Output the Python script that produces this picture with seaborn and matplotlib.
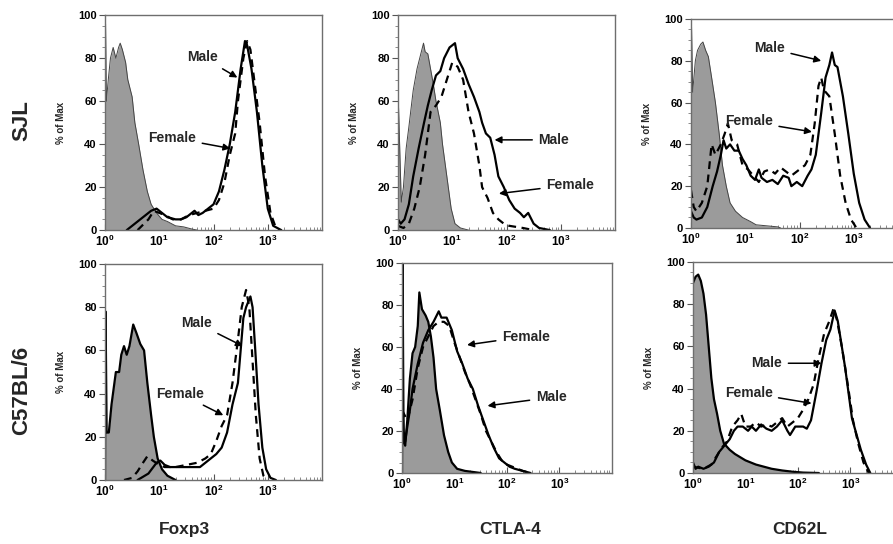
import numpy as np
import pandas as pd
import seaborn as sns
import matplotlib.pyplot as plt
from matplotlib.ticker import FixedLocator, MultipleLocator, LogLocator, NullFormatter

# histogram traces: (log10 fluorescence, % of max)
foxp3_sjl_iso = [(0.0, 0), (0.01, 96), (0.025, 60), (0.06, 70), (0.1, 80), (0.15, 85), (0.2, 80),
                 (0.25, 85), (0.28, 87), (0.32, 84), (0.38, 78), (0.42, 70), (0.5, 62), (0.55, 50),
                 (0.62, 40), (0.7, 28), (0.78, 18), (0.85, 12), (0.95, 8), (1.05, 5), (1.15, 4),
                 (1.3, 2), (1.45, 1.5), (1.6, 0.5), (1.7, 0)]
foxp3_sjl_male = [(0.4, 0), (0.5, 2), (0.7, 6), (0.85, 9), (0.95, 10), (1.05, 8), (1.15, 6),
                  (1.3, 5), (1.4, 5), (1.5, 6), (1.65, 9), (1.72, 7), (1.8, 8), (1.9, 10),
                  (2.0, 12), (2.1, 18), (2.2, 28), (2.3, 40), (2.4, 55), (2.5, 75), (2.58, 88),
                  (2.62, 86), (2.7, 75), (2.8, 55), (2.9, 30), (3.0, 10), (3.1, 2), (3.25, 0)]
foxp3_sjl_female = [(0.6, 0), (0.8, 5), (0.9, 9), (1.0, 8), (1.1, 7), (1.25, 5), (1.4, 5),
                    (1.55, 7), (1.7, 8), (1.85, 9), (2.0, 10), (2.1, 14), (2.2, 22), (2.3, 35),
                    (2.4, 45), (2.45, 60), (2.55, 80), (2.62, 88), (2.68, 84), (2.75, 70),
                    (2.85, 50), (2.95, 25), (3.05, 8), (3.15, 1), (3.2, 0)]

ctla4_sjl_iso = [(0.0, 0), (0.01, 57), (0.06, 13), (0.1, 20), (0.15, 38), (0.2, 48), (0.28, 65),
                 (0.35, 75), (0.42, 82), (0.47, 87), (0.5, 83), (0.55, 82), (0.6, 75), (0.65, 68),
                 (0.7, 60), (0.78, 50), (0.82, 40), (0.9, 25), (0.98, 10), (1.05, 3), (1.15, 1),
                 (1.3, 0)]
ctla4_sjl_male = [(0.0, 5), (0.05, 3), (0.12, 5), (0.2, 12), (0.28, 25), (0.38, 38), (0.48, 50),
                  (0.55, 58), (0.62, 65), (0.7, 72), (0.78, 74), (0.85, 80), (0.95, 85),
                  (1.05, 87), (1.1, 80), (1.2, 75), (1.3, 68), (1.4, 62), (1.5, 55), (1.55, 50),
                  (1.62, 45), (1.7, 43), (1.78, 35), (1.85, 25), (1.95, 20), (2.05, 14),
                  (2.15, 10), (2.25, 8), (2.32, 6), (2.4, 8), (2.5, 3), (2.6, 1), (2.8, 0)]
ctla4_sjl_female = [(0.0, 2), (0.1, 1), (0.2, 3), (0.3, 10), (0.4, 20), (0.5, 35), (0.6, 55),
                    (0.7, 58), (0.8, 62), (0.9, 70), (1.0, 78), (1.1, 76), (1.2, 70), (1.3, 55),
                    (1.4, 45), (1.5, 30), (1.55, 20), (1.65, 15), (1.75, 8), (1.85, 5),
                    (1.95, 3), (2.05, 2), (2.3, 1), (2.5, 0)]

cd62l_sjl_iso = [(0.0, 0), (0.01, 96), (0.03, 65), (0.08, 80), (0.12, 85), (0.18, 88),
                 (0.22, 89), (0.27, 85), (0.32, 82), (0.38, 72), (0.45, 60), (0.52, 45),
                 (0.58, 30), (0.65, 20), (0.72, 12), (0.82, 8), (0.95, 5), (1.1, 3), (1.2, 1.5),
                 (1.4, 1), (1.6, 0.5), (1.65, 0)]
cd62l_sjl_male = [(0.0, 8), (0.05, 5), (0.1, 4), (0.2, 5), (0.3, 10), (0.4, 20), (0.48, 27),
                  (0.55, 35), (0.6, 42), (0.65, 38), (0.72, 40), (0.8, 37), (0.88, 37),
                  (0.95, 33), (1.02, 30), (1.1, 25), (1.18, 23), (1.25, 28), (1.3, 24),
                  (1.4, 22), (1.5, 23), (1.6, 21), (1.7, 25), (1.8, 24), (1.85, 20), (1.95, 22),
                  (2.05, 20), (2.15, 25), (2.22, 28), (2.3, 35), (2.4, 55), (2.48, 72),
                  (2.55, 78), (2.6, 84), (2.65, 78), (2.7, 77), (2.8, 63), (2.9, 45), (3.0, 26),
                  (3.1, 12), (3.2, 4), (3.3, 0)]
cd62l_sjl_female = [(0.0, 18), (0.05, 10), (0.1, 8), (0.2, 12), (0.3, 20), (0.38, 40),
                    (0.45, 35), (0.55, 40), (0.62, 45), (0.68, 50), (0.75, 42), (0.85, 40),
                    (0.95, 30), (1.05, 28), (1.15, 25), (1.25, 22), (1.35, 27), (1.45, 28),
                    (1.55, 26), (1.65, 29), (1.75, 27), (1.85, 25), (1.95, 27), (2.1, 30),
                    (2.2, 35), (2.28, 50), (2.35, 68), (2.4, 72), (2.45, 66), (2.55, 63),
                    (2.65, 45), (2.75, 25), (2.85, 12), (2.95, 4), (3.05, 0)]

foxp3_b6_iso = [(0.0, 0), (0.01, 78), (0.03, 22), (0.07, 22), (0.12, 35), (0.2, 50), (0.26, 50),
                (0.3, 58), (0.35, 62), (0.4, 58), (0.45, 62), (0.52, 72), (0.58, 68), (0.65, 63),
                (0.72, 60), (0.78, 45), (0.85, 30), (0.9, 20), (0.97, 10), (1.05, 5), (1.15, 2),
                (1.3, 0)]
foxp3_b6_male = [(0.6, 0), (0.8, 3), (0.95, 8), (1.02, 9), (1.1, 7), (1.2, 6), (1.3, 6),
                 (1.5, 6), (1.75, 6), (1.85, 8), (1.95, 10), (2.05, 12), (2.15, 15), (2.25, 22),
                 (2.35, 35), (2.45, 45), (2.5, 60), (2.55, 75), (2.6, 80), (2.68, 85), (2.72, 80),
                 (2.77, 60), (2.83, 35), (2.9, 15), (2.97, 5), (3.05, 1), (3.15, 0)]
foxp3_b6_female = [(0.35, 0), (0.5, 1), (0.6, 4), (0.7, 8), (0.78, 11), (0.88, 9), (1.0, 7),
                   (1.1, 6), (1.3, 6), (1.5, 7), (1.7, 8), (1.85, 10), (1.95, 12), (2.05, 18),
                   (2.15, 25), (2.25, 30), (2.35, 45), (2.45, 65), (2.52, 80), (2.6, 88),
                   (2.66, 80), (2.72, 55), (2.78, 30), (2.85, 10), (2.92, 2), (3.0, 0)]

ctla4_b6_iso = [(0.0, 0), (0.01, 100), (0.03, 15), (0.06, 13), (0.1, 25), (0.15, 45), (0.2, 57),
                (0.25, 60), (0.3, 70), (0.33, 86), (0.38, 78), (0.45, 75), (0.5, 72), (0.55, 65),
                (0.6, 55), (0.65, 40), (0.72, 30), (0.8, 18), (0.88, 10), (0.95, 5), (1.05, 2),
                (1.2, 1), (1.5, 0)]
ctla4_b6_male = [(0.0, 40), (0.03, 20), (0.06, 15), (0.1, 22), (0.15, 30), (0.2, 40), (0.3, 52),
                 (0.4, 62), (0.5, 68), (0.6, 72), (0.7, 77), (0.75, 74), (0.85, 74), (0.95, 68),
                 (1.05, 58), (1.15, 52), (1.25, 45), (1.35, 40), (1.45, 32), (1.55, 25),
                 (1.65, 18), (1.75, 12), (1.85, 7), (1.95, 5), (2.05, 3), (2.15, 2), (2.3, 1),
                 (2.45, 0)]
ctla4_b6_female = [(0.0, 30), (0.1, 25), (0.2, 35), (0.3, 50), (0.4, 60), (0.5, 65), (0.6, 70),
                   (0.7, 72), (0.8, 72), (0.9, 70), (1.0, 62), (1.1, 55), (1.2, 48), (1.3, 42),
                   (1.4, 35), (1.5, 28), (1.6, 20), (1.7, 15), (1.8, 10), (1.9, 6), (2.0, 4),
                   (2.1, 3), (2.3, 1), (2.45, 0)]

cd62l_b6_iso = [(0.0, 90), (0.05, 93), (0.1, 94), (0.15, 91), (0.2, 85), (0.25, 75), (0.3, 60),
                (0.35, 45), (0.4, 35), (0.46, 28), (0.52, 20), (0.59, 14), (0.7, 11), (0.8, 9),
                (0.9, 7.5), (1.0, 6), (1.1, 5), (1.2, 4), (1.35, 3), (1.5, 2), (1.7, 1.2),
                (1.9, 0.6), (2.1, 0.2), (2.4, 0)]
cd62l_b6_male = [(0.0, 5), (0.05, 2), (0.1, 3), (0.2, 2), (0.3, 3), (0.4, 5), (0.5, 10),
                 (0.6, 13), (0.7, 16), (0.78, 20), (0.85, 22), (0.95, 22), (1.05, 20),
                 (1.12, 22), (1.2, 20), (1.3, 23), (1.4, 21), (1.5, 20), (1.6, 22), (1.7, 25),
                 (1.8, 20), (1.85, 18), (1.95, 22), (2.1, 22), (2.17, 21), (2.25, 25),
                 (2.35, 38), (2.45, 52), (2.54, 63), (2.62, 68), (2.7, 77), (2.76, 72),
                 (2.83, 61), (2.9, 50), (3.03, 26), (3.12, 18), (3.2, 11), (3.3, 4), (3.38, 0)]
cd62l_b6_female = [(0.0, 3), (0.2, 2), (0.35, 4), (0.45, 8), (0.55, 12), (0.65, 15), (0.75, 22),
                   (0.85, 25), (0.92, 28), (1.0, 22), (1.1, 22), (1.2, 24), (1.3, 22), (1.4, 23),
                   (1.5, 22), (1.6, 24), (1.7, 26), (1.8, 22), (1.9, 24), (2.0, 26), (2.1, 30),
                   (2.2, 35), (2.3, 42), (2.4, 55), (2.5, 66), (2.6, 72), (2.68, 78), (2.75, 72),
                   (2.85, 58), (2.95, 42), (3.05, 25), (3.15, 14), (3.25, 5), (3.35, 0)]

strains = ["SJL", "C57BL/6"]
markers = ["Foxp3", "CTLA-4", "CD62L"]
y_ticks = [0, 20, 40, 60, 80, 100]
x_ticks = [1, 10, 100, 1000]
x_ticklabels = ["$10^{0}$", "$10^{1}$", "$10^{2}$", "$10^{3}$"]

sns.set_style("ticks")
plt.rcParams["font.family"] = ["Liberation Sans", "DejaVu Sans"]
plt.rcParams["mathtext.fontset"] = "custom"
plt.rcParams["mathtext.rm"] = "Liberation Sans:bold"
plt.rcParams["mathtext.it"] = "Liberation Sans:bold"
plt.rcParams["mathtext.bf"] = "Liberation Sans:bold"


def to_df(pts):
    arr = np.array(pts, dtype=float)
    return pd.DataFrame({"fl": 10 ** arr[:, 0], "pct": arr[:, 1]})


def histo(ax, iso, male, female, dark_iso):
    d = to_df(iso)
    ax.fill_between(d["fl"], d["pct"], color="#9b9b9b", lw=0)
    if dark_iso:
        sns.lineplot(data=d, x="fl", y="pct", ax=ax, color="black", lw=1.6,
                     estimator=None, sort=False)
    else:
        sns.lineplot(data=d, x="fl", y="pct", ax=ax, color="#444444", lw=0.7,
                     estimator=None, sort=False)
    sns.lineplot(data=to_df(male), x="fl", y="pct", ax=ax, color="black", lw=1.6,
                 estimator=None, sort=False)
    sns.lineplot(data=to_df(female), x="fl", y="pct", ax=ax, color="black", lw=1.6,
                 linestyle=(0, (3.5, 2.5)), estimator=None, sort=False)

    ax.set_xscale("log")
    ax.set_xlim(1, 1e4)
    ax.set_ylim(0, 100)
    ax.xaxis.set_major_locator(FixedLocator(x_ticks))
    ax.set_xticklabels(x_ticklabels)
    ax.xaxis.set_minor_locator(LogLocator(base=10, subs=np.arange(2, 10)))
    ax.xaxis.set_minor_formatter(NullFormatter())
    ax.set_yticks(y_ticks)
    ax.yaxis.set_minor_locator(MultipleLocator(5))
    ax.tick_params(axis="x", which="major", direction="in", length=4, width=0.8,
                   labelsize=8.5, colors="#555555", labelcolor="black", pad=3)
    ax.tick_params(axis="x", which="minor", direction="in", length=2.5, width=0.6, colors="#777777")
    ax.tick_params(axis="y", which="major", direction="out", length=4, width=0.8,
                   labelsize=8, colors="#555555", labelcolor="black", pad=2)
    ax.tick_params(axis="y", which="minor", direction="out", length=2, width=0.6, colors="#777777")
    for lab in ax.get_yticklabels():
        lab.set_fontweight("bold")
    for sp in ax.spines.values():
        sp.set_color("#6e6e6e")
        sp.set_linewidth(1.0)
        sp.set_visible(True)
    ax.set_xlabel("")
    ax.set_ylabel("% of Max", fontsize=7, fontweight="bold", labelpad=9)


def note(ax, text, tx, ty, ax_, ay):
    ax.annotate(text, xy=(10 ** ax_, ay), xytext=(10 ** tx, ty), ha="center", va="center",
                fontsize=10, fontweight="bold",
                arrowprops=dict(arrowstyle="-|>", color="black", lw=1.1,
                                mutation_scale=10, shrinkA=2, shrinkB=0))


fig = plt.figure(figsize=(8.93, 5.44), dpi=100)

positions = [
    [0.1176, 0.577, 0.243, 0.395],
    [0.4457, 0.577, 0.243, 0.395],
    [0.7738, 0.581, 0.243, 0.384],
    [0.1176, 0.1176, 0.243, 0.397],
    [0.4502, 0.1305, 0.235, 0.386],
    [0.776, 0.1305, 0.235, 0.388],
]
axes = [fig.add_axes(p) for p in positions]

histo(axes[0], foxp3_sjl_iso, foxp3_sjl_male, foxp3_sjl_female, False)
histo(axes[1], ctla4_sjl_iso, ctla4_sjl_male, ctla4_sjl_female, False)
histo(axes[2], cd62l_sjl_iso, cd62l_sjl_male, cd62l_sjl_female, False)
histo(axes[3], foxp3_b6_iso, foxp3_b6_male, foxp3_b6_female, True)
histo(axes[4], ctla4_b6_iso, ctla4_b6_male, ctla4_b6_female, True)
histo(axes[5], cd62l_b6_iso, cd62l_b6_male, cd62l_b6_female, True)

note(axes[0], "Male", 1.80, 80.5, 2.44, 71)
note(axes[0], "Female", 1.24, 43, 2.31, 38)
note(axes[1], "Male", 2.87, 42, 1.78, 42)
note(axes[1], "Female", 3.17, 21, 1.86, 17)
note(axes[2], "Male", 1.45, 86, 2.40, 80)
note(axes[2], "Female", 1.07, 51, 2.23, 46)
note(axes[3], "Male", 1.69, 72.7, 2.54, 62)
note(axes[3], "Female", 1.39, 40, 2.18, 30)
note(axes[4], "Female", 2.36, 65, 1.24, 61)
note(axes[4], "Male", 2.84, 36, 1.63, 32)
note(axes[5], "Male", 1.41, 52, 2.45, 52)
note(axes[5], "Female", 1.06, 38, 2.26, 33)

fig.text(0.024, 0.779, strains[0], rotation=90, ha="center", va="center",
         fontsize=16, fontweight="bold")
fig.text(0.024, 0.283, strains[1], rotation=90, ha="center", va="center",
         fontsize=16, fontweight="bold")
for xc, name in zip([0.207, 0.571, 0.896], markers):
    fig.text(xc, 0.026, name, ha="center", va="center", fontsize=12.5, fontweight="bold")

fig.savefig("out.png", dpi=100)
